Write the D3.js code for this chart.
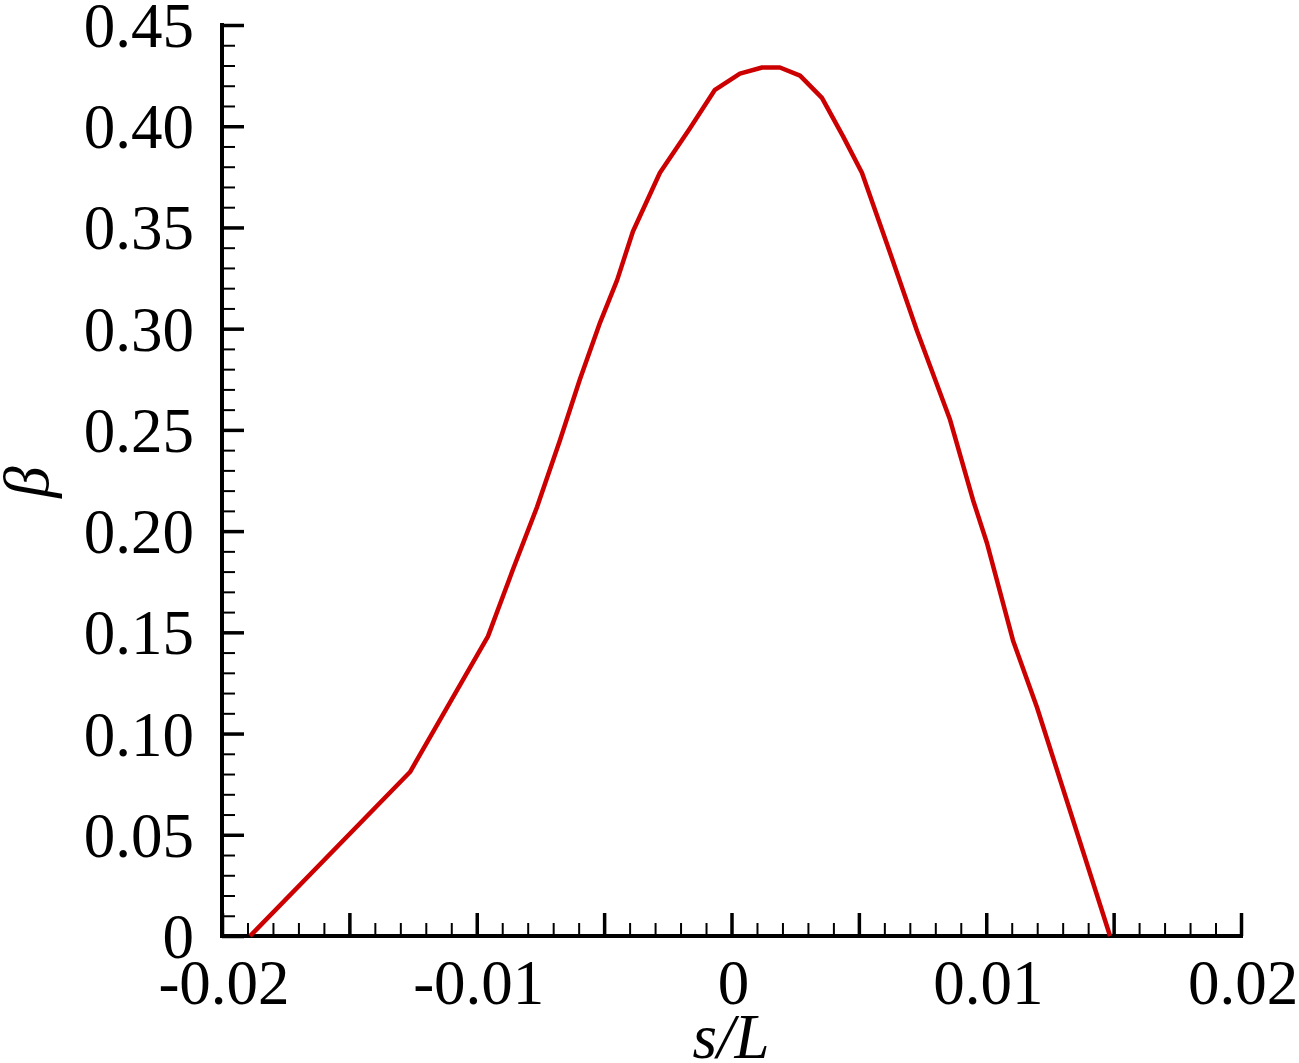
<!DOCTYPE html>
<html>
<head>
<meta charset="utf-8">
<script src="https://cdn.jsdelivr.net/npm/d3@7"></script>
<style>
  body { margin: 0; background: white; }
  text { font-family: "Liberation Serif", "Times New Roman", serif; fill: black; }
</style>
</head>
<body>
<svg id="chart" width="1299" height="1063"></svg>
<script>
// curve
var sValues = [-0.0189, -0.01262, -0.00956, -0.00858, -0.00763, -0.00673, -0.00595, -0.00516, -0.00449, -0.00387,
               -0.00281, -0.00163, -0.00065, 0.00033, 0.0012, 0.0019, 0.00269, 0.00355, 0.00438, 0.00512,
               0.0061, 0.00728, 0.00858, 0.00948, 0.01003, 0.01105, 0.01199, 0.01486];
var betaValues = [0, 0.081, 0.148, 0.181, 0.212, 0.245, 0.275, 0.303, 0.324, 0.348,
                  0.377, 0.399, 0.418, 0.426, 0.429, 0.429, 0.425, 0.414, 0.395, 0.377,
                  0.342, 0.299, 0.255, 0.2154, 0.194, 0.146, 0.113, 0];

var xLabelTicks = [-0.02, -0.01, 0, 0.01, 0.02];
var yLabelTicks = [0, 0.05, 0.10, 0.15, 0.20, 0.25, 0.30, 0.35, 0.40, 0.45];

var svg = d3.select("#chart");

var x = d3.scaleLinear().domain([-0.02, 0.02]).range([222, 1241]);
var y = d3.scaleLinear().domain([0, 0.45]).range([936, 25]);

var fontSize = 63;

// minor ticks
var xMinor = d3.range(-20, 21).map(function(d) { return d / 1000; });
var xMajor = d3.range(-4, 5).map(function(d) { return d * 0.005; });
var yMinor = d3.range(0, 46).map(function(d) { return d / 100; });

svg.append("g")
    .attr("transform", "translate(0," + y(0) + ")")
    .call(d3.axisBottom(x).tickValues(xMinor).tickSize(-13).tickFormat(""))
    .call(function(g) { g.select(".domain").remove(); })
    .selectAll("line").attr("stroke", "black").attr("stroke-width", 2);

svg.append("g")
    .attr("transform", "translate(0," + y(0) + ")")
    .call(d3.axisBottom(x).tickValues(xMajor).tickSize(-23).tickFormat(""))
    .call(function(g) { g.select(".domain").remove(); })
    .selectAll("line").attr("stroke", "black").attr("stroke-width", 3.5);

svg.append("g")
    .attr("transform", "translate(" + x(-0.02) + ",0)")
    .call(d3.axisLeft(y).tickValues(yMinor).tickSize(-13).tickFormat(""))
    .call(function(g) { g.select(".domain").remove(); })
    .selectAll("line").attr("stroke", "black").attr("stroke-width", 2);

svg.append("g")
    .attr("transform", "translate(" + x(-0.02) + ",0)")
    .call(d3.axisLeft(y).tickValues(yLabelTicks).tickSize(-22).tickFormat(""))
    .call(function(g) { g.select(".domain").remove(); })
    .selectAll("line").attr("stroke", "black").attr("stroke-width", 3.5);

// axis lines
svg.append("line")
    .attr("x1", x(-0.02) - 2).attr("x2", x(0.02) + 2)
    .attr("y1", y(0)).attr("y2", y(0))
    .attr("stroke", "black").attr("stroke-width", 4);
svg.append("line")
    .attr("x1", x(-0.02)).attr("x2", x(-0.02))
    .attr("y1", y(0.45) - 2).attr("y2", y(0) + 2)
    .attr("stroke", "black").attr("stroke-width", 4);

// tick labels
svg.selectAll(".xlab")
    .data(xLabelTicks)
    .enter()
    .append("text")
    .attr("x", function(d) { return x(d) + 2; })
    .attr("y", 1004)
    .attr("text-anchor", "middle")
    .attr("font-size", fontSize)
    .text(function(d) { return d === 0 ? "0" : String(d); });

svg.selectAll(".ylab")
    .data(yLabelTicks)
    .enter()
    .append("text")
    .attr("x", 194)
    .attr("y", function(d) { return y(d) + 22; })
    .attr("text-anchor", "end")
    .attr("font-size", fontSize)
    .text(function(d) { return d === 0 ? "0" : d3.format(".2f")(d); });

// axis titles
svg.append("text")
    .attr("x", 731)
    .attr("y", 1058)
    .attr("text-anchor", "middle")
    .attr("font-size", fontSize)
    .attr("font-style", "italic")
    .text("s/L");

svg.append("text")
    .attr("transform", "translate(48,482) rotate(-90)")
    .attr("text-anchor", "middle")
    .attr("font-size", fontSize)
    .attr("font-style", "italic")
    .text("β");

// curve
var points = sValues.map(function(d, i) { return [d, betaValues[i]]; });
var line = d3.line()
    .x(function(d) { return x(d[0]); })
    .y(function(d) { return y(d[1]); });

svg.append("path")
    .datum(points)
    .attr("d", line)
    .attr("fill", "none")
    .attr("stroke", "#cc0000")
    .attr("stroke-width", 4.5)
    .attr("stroke-linejoin", "round");
</script>
</body>
</html>
